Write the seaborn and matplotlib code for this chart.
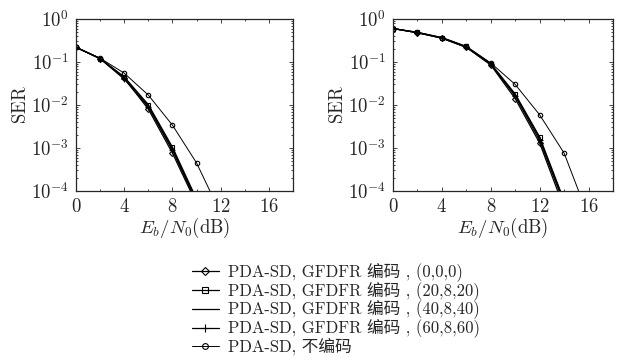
import numpy as np
import pandas as pd
import matplotlib
matplotlib.use("Agg")
import matplotlib.pyplot as plt
import seaborn as sns
from matplotlib.ticker import FixedLocator, MultipleLocator, LogLocator, NullFormatter

# ---- data ----
x_left = [0, 2, 4, 6, 8, 10, 12]
uncoded_left = [0.22, 0.123, 0.055, 0.017, 3.4e-3, 4.5e-4, 3e-5]
c000_left = [0.22, 0.12, 0.042, 0.008, 7.6e-4, 5e-5]
c20_left = [0.22, 0.12, 0.045, 0.0102, 1.05e-3, 6.5e-5]
c40_left = [0.22, 0.12, 0.044, 0.0095, 9.5e-4, 6e-5]
c60_left = [0.22, 0.12, 0.040, 0.009, 8.8e-4, 5.5e-5]

x_right = [0, 2, 4, 6, 8, 10, 12, 14, 16]
uncoded_right = [0.60, 0.49, 0.37, 0.23, 0.095, 0.030, 5.9e-3, 7.6e-4, 2.5e-5]
c000_right = [0.60, 0.48, 0.36, 0.22, 0.085, 0.014, 1.3e-3, 4e-5]
c20_right = [0.60, 0.49, 0.37, 0.23, 0.092, 0.018, 1.8e-3, 6e-5]
c40_right = [0.60, 0.48, 0.36, 0.22, 0.090, 0.017, 1.7e-3, 5.5e-5]
c60_right = [0.60, 0.48, 0.36, 0.22, 0.088, 0.016, 1.5e-3, 5e-5]

labels = ["PDA-SD, GFDFR 编码 , (0,0,0)",
          "PDA-SD, GFDFR 编码 , (20,8,20)",
          "PDA-SD, GFDFR 编码 , (40,8,40)",
          "PDA-SD, GFDFR 编码 , (60,8,60)",
          "PDA-SD, 不编码"]
x_ticks = [0, 4, 8, 12, 16]
y_ticks = [1e-4, 1e-3, 1e-2, 1e-1, 1e0]
y_ticklabels = [r"$10^{-4}$", r"$10^{-3}$", r"$10^{-2}$", r"$10^{-1}$", r"$10^{0}$"]

sns.set_style("ticks")
plt.rcParams["font.family"] = ["Liberation Serif", "Noto Sans CJK SC", "DejaVu Sans"]
plt.rcParams["mathtext.fontset"] = "cm"

fig = plt.figure(figsize=(6.23, 3.63), dpi=100)
ax1 = fig.add_axes([76/623, 1-191/363, 217/623, 172/363])
ax2 = fig.add_axes([393/623, 1-191/363, 220/623, 172/363])

styles = [dict(marker="D", lw=0.9, ms=3.0),
          dict(marker="s", lw=0.9, ms=3.2),
          dict(marker=None, lw=0.9, ms=0),
          dict(marker="+", lw=0.9, ms=4.5),
          dict(marker="o", lw=0.7, ms=3.2)]

def draw(ax, x, series):
    for i, (ys, st) in enumerate(zip(series, styles)):
        df = pd.DataFrame({"x": x[:len(ys)], "y": ys})
        kw = dict(color="black", linewidth=st["lw"], label=labels[i])
        if st["marker"] is not None:
            kw.update(marker=st["marker"], markersize=st["ms"],
                      markerfacecolor="none", markeredgecolor="black",
                      markeredgewidth=0.8)
        sns.lineplot(data=df, x="x", y="y", ax=ax, sort=False, **kw)
    ax.set_yscale("log")
    ax.set_xlim(0, 18)
    ax.set_ylim(1e-4, 1)
    ax.xaxis.set_major_locator(FixedLocator(x_ticks))
    ax.xaxis.set_minor_locator(MultipleLocator(2))
    ax.set_xticklabels([f"${t}$" for t in x_ticks])
    ax.yaxis.set_major_locator(FixedLocator(y_ticks))
    ax.set_yticklabels(y_ticklabels)
    ax.yaxis.set_minor_locator(LogLocator(base=10, subs=np.arange(2, 10)))
    ax.yaxis.set_minor_formatter(NullFormatter())
    ax.tick_params(which="both", direction="in", top=True, right=True,
                   labelsize=13.5, width=0.6, pad=5)
    ax.tick_params(which="major", length=3)
    ax.tick_params(which="minor", length=1.5)
    for s in ax.spines.values():
        s.set_linewidth(0.9)
    ax.set_xlabel(r"$E_b/N_0(\mathrm{dB})$", fontsize=13.5, labelpad=0)
    ax.set_ylabel(r"$\mathrm{SER}$", fontsize=13.5, labelpad=1)
    if ax.get_legend() is not None:
        ax.get_legend().remove()

draw(ax1, x_left, [c000_left, c20_left, c40_left, c60_left, uncoded_left])
draw(ax2, x_right, [c000_right, c20_right, c40_right, c60_right, uncoded_right])

handles, labs = ax1.get_legend_handles_labels()
leg = fig.legend(handles[:5], labs[:5], loc="upper left", bbox_to_anchor=(192/623, 1-263/363),
                 frameon=False, prop={"size": 12, "family": ["cmr10", "Noto Sans CJK SC", "DejaVu Sans"]},
                 handlelength=1.6, handletextpad=0.55,
                 labelspacing=0.0, borderaxespad=0, borderpad=0, markerscale=1.3)

fig.savefig("out.png", dpi=100)
